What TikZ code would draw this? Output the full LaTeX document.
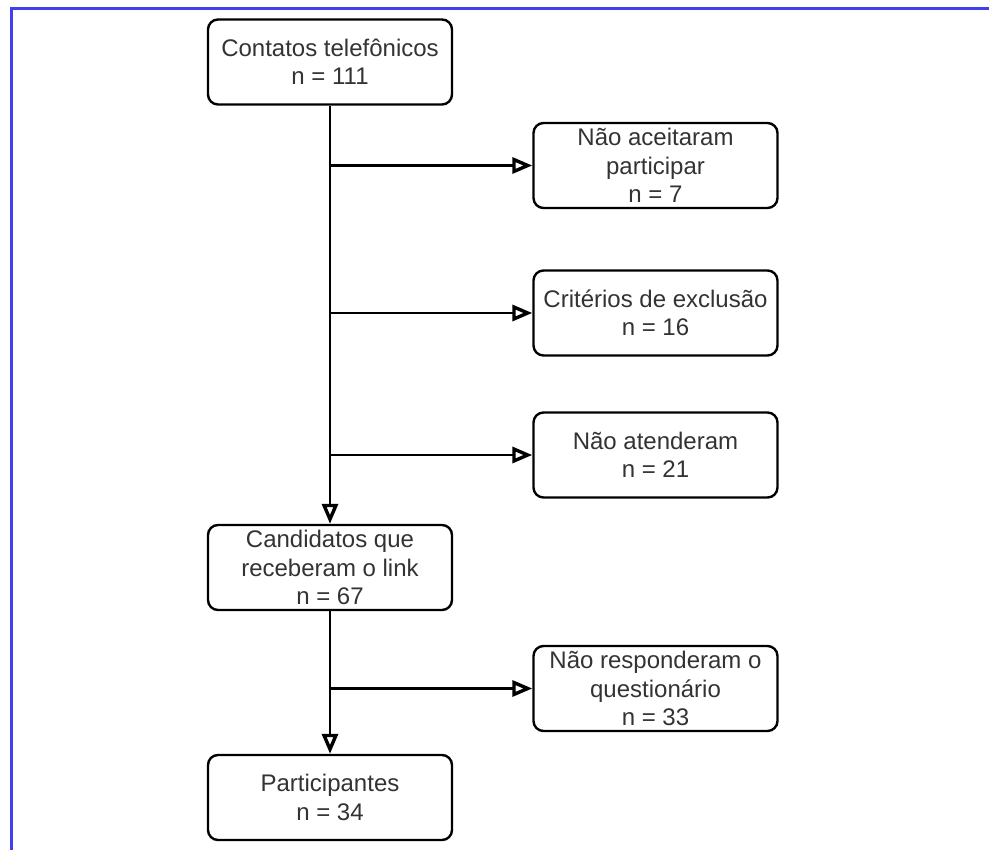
\documentclass[tikz,border=0pt]{standalone}
\usepackage{fontspec}
\setmainfont{Liberation Sans}
\usepackage{xcolor}
\usetikzlibrary{arrows.meta}
\definecolor{framecol}{HTML}{4040F0}
\definecolor{txtcol}{HTML}{333333}

\begin{document}
\begin{tikzpicture}[x=1pt, y=-1pt,
        caixa/.style={draw=black, line width=2.4pt, rounded corners=10pt, fill=white,
                minimum width=244pt, minimum height=85pt, align=center, inner sep=0pt,
                text=txtcol, font=\fontsize{24}{28.5}\selectfont},
        seta/.style={line width=2.4pt, -{Triangle[open, length=20pt, width=16pt, line width=3.4pt]}}]
        \useasboundingbox (0,0) rectangle (989,850);
        \draw[framecol, line width=3pt] (11,850) -- (11,9) -- (989,9);
        \node[caixa] (contatos) at (330,62) {Contatos telefônicos\\n = 111};
        \node[caixa] (naoaceit) at (655.5,165.5) {Não aceitaram\\participar\\n = 7};
        \node[caixa] (criterios) at (655.5,313) {Critérios de exclusão\\n = 16};
        \node[caixa] (naoatend) at (655.5,455) {Não atenderam\\n = 21};
        \node[caixa] (candidatos) at (330,567.5) {Candidatos que\\receberam o link\\n = 67};
        \node[caixa] (naoresp) at (655.5,688.5) {Não responderam o\\questionário\\n = 33};
        \node[caixa] (particip) at (330,797.5) {Participantes\\n = 34};
        \draw[seta] (contatos.south) -- (candidatos.north);
        \draw[seta] (contatos.south |- naoaceit.west) -- (naoaceit.west);
        \draw[seta] (contatos.south |- criterios.west) -- (criterios.west);
        \draw[seta] (contatos.south |- naoatend.west) -- (naoatend.west);
        \draw[seta] (candidatos.south) -- (particip.north);
        \draw[seta] (candidatos.south |- naoresp.west) -- (naoresp.west);
\end{tikzpicture}
\end{document}
